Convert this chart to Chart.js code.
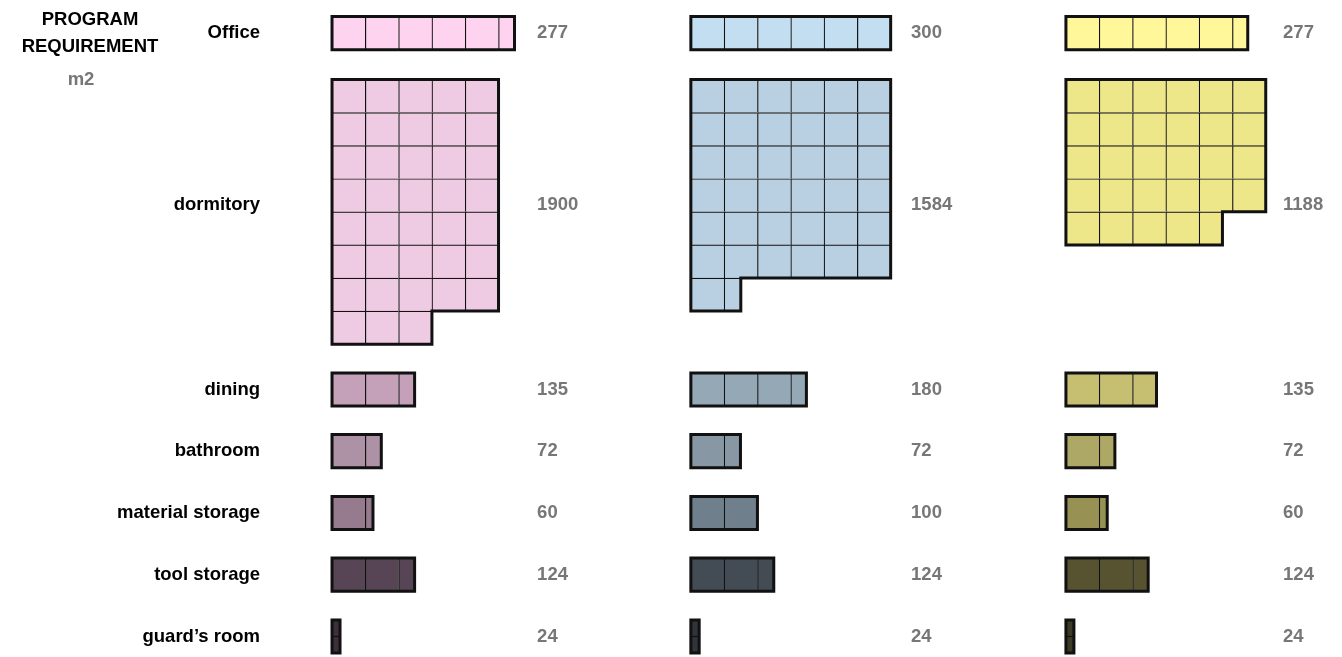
<!DOCTYPE html>
<html>
<head>
<meta charset="utf-8">
<title>Program requirement</title>
<script src="https://cdn.jsdelivr.net/npm/chart.js@4.4.1/dist/chart.umd.min.js"></script>
<style>
  html, body { margin: 0; padding: 0; background: #fff; }
  #wrap { width: 1342px; height: 657px; position: relative; }
</style>
</head>
<body>
<div id="wrap"><canvas id="programChart"></canvas></div>
<script>
// program names (left column)
const programs = ["Office", "dormitory", "dining", "bathroom", "material storage", "tool storage", "guard’s room"];

// m2 written next to each block
const pinkM2 = [277, 1900, 135, 72, 60, 124, 24];
const blueM2 = [300, 1584, 180, 72, 100, 124, 24];
const yellowM2 = [277, 1188, 135, 72, 60, 124, 24];

// squares drawn for each block
const pinkCells = [5.48, 38, 2.48, 1.48, 1.23, 2.48, 0.48];
const blueCells = [6, 37.5, 3.47, 1.49, 2, 2.49, 0.5];
const yellowCells = [5.46, 28.7, 2.72, 1.47, 1.24, 2.47, 0.48];

// squares per row
const pinkCols = [6, 5, 6, 6, 6, 6, 1];
const blueCols = [6, 6, 6, 6, 6, 6, 1];
const yellowCols = [6, 6, 6, 6, 6, 6, 1];

// guard's room is folded in two
const fold = [1, 1, 1, 1, 1, 1, 2];

// layout (square units)
const rowTop = [0.5, 2.4, 11.27, 13.13, 15.0, 16.86, 18.73];
const labelRow = [1.0, 6.2, 11.77, 13.63, 15.5, 17.36, 19.23];
const groupStart = [1.862, 12.637, 23.9];
const valueX = [8.02, 19.25, 30.42];
const nameX = -0.3;

const palette = [
    ["#fdd3f0", "#eecbe3", "#c5a1b9", "#ad91a5", "#967a8e", "#574555", "#3e2f3b"],
    ["#c3def0", "#b9d0e3", "#95a8b6", "#8797a4", "#6f7f8b", "#434b54", "#2f353a"],
    ["#fff799", "#eee78a", "#c6be70", "#aea867", "#979253", "#575331", "#3d3a25"],
];

const groups = [
    { cells: pinkCells, cols: pinkCols, m2: pinkM2 },
    { cells: blueCells, cols: blueCols, m2: blueM2 },
    { cells: yellowCells, cols: yellowCols, m2: yellowM2 },
];

const FONT = '"Liberation Sans", Arial, sans-serif';

// cells of one block as floating bars
function blockCells(gi, pi) {
    const g = groups[gi];
    const area = g.cells[pi] / fold[pi];
    const cols = g.cols[pi];
    const x0 = groupStart[gi], y0 = rowTop[pi];
    const out = [];
    let left = area, r = 0;
    while (left > 1e-6) {
        const rowW = Math.min(cols, left);
        for (let j = 0; j < rowW - 1e-6; j++) {
            out.push({ x: [x0 + j, x0 + Math.min(j + 1, rowW)], y: y0 + r + 0.5, p: pi });
        }
        left -= rowW;
        r++;
    }
    return out;
}

// thick outline round a block
function blockOutline(gi, pi) {
    const g = groups[gi];
    const area = g.cells[pi] / fold[pi];
    const cols = g.cols[pi];
    const x0 = groupStart[gi], y0 = rowTop[pi];
    const full = Math.floor(area / cols + 1e-6);
    const rest = area - full * cols;
    let pts;
    if (full === 0) pts = [[0, 0], [area, 0], [area, 1], [0, 1]];
    else if (rest < 1e-6) pts = [[0, 0], [cols, 0], [cols, full], [0, full]];
    else pts = [[0, 0], [cols, 0], [cols, full], [rest, full], [rest, full + 1], [0, full + 1]];
    pts.push(pts[0], pts[1]);
    return pts.map(([dx, dy]) => ({ x: x0 + dx, y: y0 + dy }));
}

const datasets = [];
groups.forEach((g, gi) => {
    let cells = [];
    programs.forEach((_, pi) => {
        cells = cells.concat(blockCells(gi, pi));
        datasets.push({
            type: "line",
            data: blockOutline(gi, pi),
            borderColor: "#111",
            borderWidth: 3,
            borderJoinStyle: "miter",
            pointRadius: 0,
            fill: false,
            tension: 0,
            order: 1,
        });
        // fold line
        for (let k = 1; k < fold[pi]; k++) {
            const w = g.cells[pi] / fold[pi];
            const yy = rowTop[pi] + k / fold[pi];
            datasets.push({
                type: "line",
                data: [{ x: groupStart[gi], y: yy }, { x: groupStart[gi] + w, y: yy }],
                borderColor: "#111",
                borderWidth: 1.2,
                pointRadius: 0,
                fill: false,
                order: 1,
            });
        }
    });
    datasets.push({
        type: "bar",
        data: cells,
        backgroundColor: c => palette[gi][c.raw.p],
        borderColor: "#111",
        borderWidth: { left: 1.2, top: 1.2, right: 0, bottom: 0 },
        borderSkipped: false,
        barPercentage: 1,
        categoryPercentage: 1,
        grouped: false,
        order: 2,
    });
});

// header, program names and m2 figures
const sheetText = {
    id: "sheetText",
    afterDraw(chart) {
        const { ctx, scales: { x, y } } = chart;
        ctx.save();
        ctx.font = "bold 18.5px " + FONT;
        ctx.textBaseline = "middle";
        ctx.textAlign = "center";
        ctx.fillStyle = "#000";
        ctx.fillText("PROGRAM", 90, 20);
        ctx.fillText("REQUIREMENT", 90, 47);
        ctx.textAlign = "right";
        programs.forEach((name, i) => {
            ctx.fillText(name, x.getPixelForValue(nameX), y.getPixelForValue(labelRow[i]));
        });
        ctx.fillStyle = "#777";
        ctx.textAlign = "center";
        ctx.fillText("m2", 81, 80);
        ctx.textAlign = "left";
        groups.forEach((g, gi) => {
            g.m2.forEach((v, i) => {
                ctx.fillText(String(v), x.getPixelForValue(valueX[gi]), y.getPixelForValue(labelRow[i]));
            });
        });
        ctx.restore();
    },
};

new Chart(document.getElementById("programChart"), {
    type: "bar",
    data: { datasets },
    plugins: [sheetText],
    options: {
        indexAxis: "y",
        responsive: true,
        maintainAspectRatio: false,
        animation: false,
        events: [],
        layout: { padding: 0 },
        plugins: { legend: { display: false }, tooltip: { enabled: false } },
        scales: {
            x: { type: "linear", display: false, offset: false, min: -8.108, max: 32.19 },
            y: {
                type: "linear",
                display: false,
                offset: false,
                reverse: true,
                min: 0,
                max: 19.85,
                afterBuildTicks: s => { s.ticks = labelRow.map(v => ({ value: v })); },
            },
        },
    },
});
</script>
</body>
</html>
